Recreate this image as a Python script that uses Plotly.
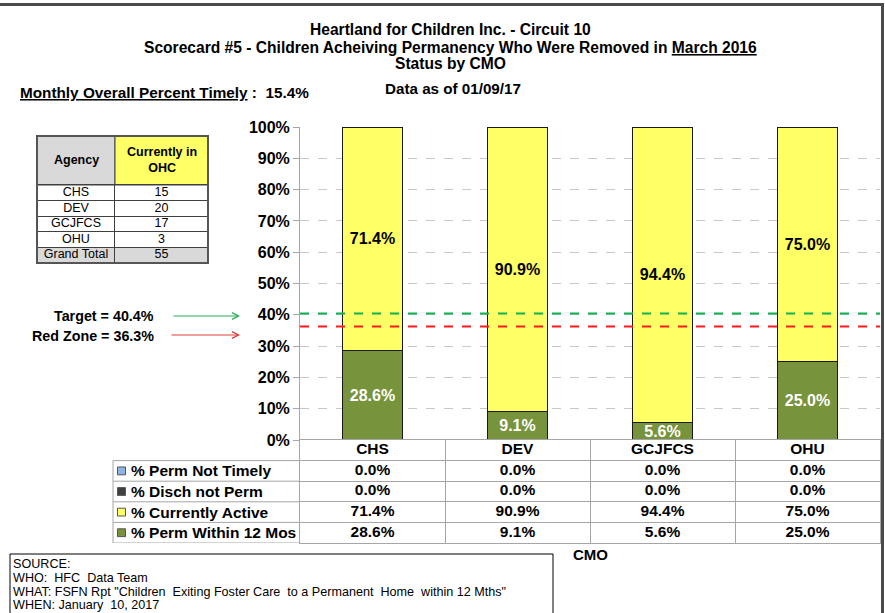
import plotly.graph_objects as go

# ---------------- data ----------------
cmos = ["CHS", "DEV", "GCJFCS", "OHU"]
perm_not_timely = [0.0, 0.0, 0.0, 0.0]
disch_not_perm = [0.0, 0.0, 0.0, 0.0]
currently_active = [71.4, 90.9, 94.4, 75.0]
perm_within_12 = [28.6, 9.1, 5.6, 25.0]

agencies = ["CHS", "DEV", "GCJFCS", "OHU", "Grand Total"]
currently_in_ohc = [15, 20, 17, 3, 55]

target = 40.4
red_zone = 36.3
overall_timely = 15.4

title_lines = [
    "Heartland for Children Inc. - Circuit 10",
    "Scorecard #5 - Children Acheiving Permanency Who Were Removed in <span style='text-decoration:underline'>March 2016</span>",
    "Status by CMO",
]
source_lines = [
    "SOURCE:",
    "WHO:  HFC  Data Team",
    "WHAT: FSFN Rpt \"Children  Exiting Foster Care  to a Permanent  Home  within 12 Mths\"",
    "WHEN: January  10, 2017",
]

# ---------------- styling / geometry ----------------
W, H = 885, 613
FONT = "Liberation Sans, Arial, sans-serif"
GREEN = "#77933C"
YELLOW = "#FFFF66"
BLUE = "#8DB4E2"
DARK = "#404040"
LGRID = "#A6A6A6"
TGRAY = "#D9D9D9"


def fx(px):
    return px / W


def fy(py):
    return 1 - py / H


fig = go.Figure()

# ---------------- stacked bars ----------------
series = [
    ("% Perm Within 12 Mos", perm_within_12, GREEN, "white"),
    ("% Currently Active", currently_active, YELLOW, "black"),
    ("% Disch not Perm", disch_not_perm, DARK, "white"),
    ("% Perm Not Timely", perm_not_timely, BLUE, "black"),
]
for name, vals, col, tcol in series:
    show = any(v > 0 for v in vals)
    fig.add_trace(go.Bar(
        x=cmos, y=vals, name=name, width=0.41,
        marker=dict(color=col, line=dict(color="#1a1a1a", width=1)),
        text=[f"<b>{v:.1f}%</b>" for v in vals] if show else None,
        textposition="inside" if show else "none",
        insidetextanchor="middle", textangle=0,
        textfont=dict(family=FONT, size=16, color=tcol),
        hoverinfo="skip", showlegend=False, xaxis="x", yaxis="y",
    ))

# ---------------- data table under the chart (x2 / y2) ----------------
table_rows = ["hdr", "% Perm Not Timely", "% Disch not Perm", "% Currently Active", "% Perm Within 12 Mos"]
row_series = {
    "% Perm Not Timely": (perm_not_timely, BLUE),
    "% Disch not Perm": (disch_not_perm, DARK),
    "% Currently Active": (currently_active, YELLOW),
    "% Perm Within 12 Mos": (perm_within_12, GREEN),
}
fig.add_trace(go.Scatter(
    x=cmos, y=["hdr"] * len(cmos), mode="text", text=[f"<b>{c}</b>" for c in cmos],
    textfont=dict(family=FONT, size=15.5, color="black"), textposition="middle center",
    xaxis="x2", yaxis="y2", hoverinfo="skip", showlegend=False,
))
for rname, (vals, _) in row_series.items():
    fig.add_trace(go.Scatter(
        x=cmos, y=[rname] * len(cmos), mode="text", text=[f"<b>{v:.1f}%</b>" for v in vals],
        textfont=dict(family=FONT, size=15.5, color="black"), textposition="middle center",
        xaxis="x2", yaxis="y2", hoverinfo="skip", showlegend=False,
    ))

# ---------------- left summary table (x3 / y3) ----------------
col_split = 0.456  # boundary between the two columns, fraction of table width
fig.add_trace(go.Scatter(
    x=[col_split / 2] * len(agencies), y=agencies, mode="text", text=agencies,
    textfont=dict(family=FONT, size=12.5, color="black"), textposition="middle center",
    xaxis="x3", yaxis="y3", hoverinfo="skip", showlegend=False,
))
fig.add_trace(go.Scatter(
    x=[(1 + col_split) / 2] * len(agencies), y=agencies, mode="text",
    text=[str(n) for n in currently_in_ohc],
    textfont=dict(family=FONT, size=12.5, color="black"), textposition="middle center",
    xaxis="x3", yaxis="y3", hoverinfo="skip", showlegend=False,
))

# ---------------- shapes ----------------
shapes = [
    # outer frame (top and right)
    dict(type="line", xref="paper", yref="paper", x0=0, x1=fx(884), y0=fy(4.5), y1=fy(4.5),
         line=dict(color="#4a4a4a", width=3)),
    dict(type="line", xref="paper", yref="paper", x0=fx(882.5), x1=fx(882.5), y0=fy(3), y1=0,
         line=dict(color="#4a4a4a", width=3)),
    # target lines
    dict(type="line", xref="x domain", yref="y", x0=0, x1=1, y0=target, y1=target,
         line=dict(color="#12B050", width=2, dash="dash")),
    dict(type="line", xref="x domain", yref="y", x0=0, x1=1, y0=red_zone, y1=red_zone,
         line=dict(color="#FF1A1A", width=2, dash="dash")),
    # source box (bottom edge runs off the page)
    dict(type="path", xref="paper", yref="paper",
         path=f"M{fx(10)},0 L{fx(10)},{fy(554)} L{fx(553)},{fy(554)} L{fx(553)},0",
         line=dict(color="black", width=1)),
    # left table: grand-total fill, header cells, outer border
    dict(type="rect", xref="x3 domain", yref="y3", x0=0, x1=1,
         y0=agencies.index("Grand Total") - 0.5, y1=agencies.index("Grand Total") + 0.5,
         fillcolor=TGRAY, line=dict(width=0), layer="below"),
    dict(type="rect", xref="paper", yref="paper", x0=fx(37), x1=fx(115), y0=fy(185), y1=fy(136),
         fillcolor=TGRAY, line=dict(color=DARK, width=1), layer="below"),
    dict(type="rect", xref="paper", yref="paper", x0=fx(115), x1=fx(208), y0=fy(185), y1=fy(136),
         fillcolor=YELLOW, line=dict(color=DARK, width=1), layer="below"),
    dict(type="rect", xref="paper", yref="paper", x0=fx(37), x1=fx(208), y0=fy(263), y1=fy(136),
         line=dict(color="#555555", width=2)),
]
# data table: label column borders
for i in range(1, len(table_rows) + 1):
    shapes.append(dict(type="line", xref="paper", yref="y2", x0=fx(113), x1=fx(300),
                       y0=i - 0.5, y1=i - 0.5, line=dict(color=LGRID, width=1)))
shapes.append(dict(type="line", xref="paper", yref="y2", x0=fx(113), x1=fx(113),
                   y0=0.5, y1=len(table_rows) - 0.5, line=dict(color=LGRID, width=1)))
# legend keys in the label column
for rname, (vals, col) in row_series.items():
    i = table_rows.index(rname)
    shapes.append(dict(type="rect", xref="paper", yref="y2", x0=fx(117.5), x1=fx(125.5),
                       y0=i - 0.19, y1=i + 0.19, fillcolor=col, line=dict(color="#555555", width=1)))

# ---------------- annotations ----------------
annotations = []
for t, y in zip(title_lines, [30, 47, 64]):
    annotations.append(dict(text=f"<b>{t}</b>", x=fx(450), y=fy(y), xref="paper", yref="paper",
                            showarrow=False, xanchor="center", yanchor="middle",
                            font=dict(family=FONT, size=15.6, color="black")))
annotations += [
    dict(text="<b><span style='text-decoration:underline'>Monthly Overall Percent Timely</span> :  "
              f"{overall_timely:.1f}%</b>",
         x=fx(18), y=fy(93), xref="paper", yref="paper", showarrow=False,
         xanchor="left", yanchor="middle", font=dict(family=FONT, size=15.3, color="black")),
    dict(text="<b>Data as of 01/09/17</b>", x=fx(383), y=fy(89), xref="paper", yref="paper",
         showarrow=False, xanchor="left", yanchor="middle",
         font=dict(family=FONT, size=15.2, color="black")),
    dict(text=f"<b>Target = {target:.1f}%</b>", x=fx(156), y=fy(316), xref="paper", yref="paper",
         showarrow=False, xanchor="right", yanchor="middle",
         font=dict(family=FONT, size=14.3, color="black")),
    dict(text=f"<b>Red Zone = {red_zone:.1f}%</b>", x=fx(156), y=fy(336), xref="paper", yref="paper",
         showarrow=False, xanchor="right", yanchor="middle",
         font=dict(family=FONT, size=14.3, color="black")),
    dict(text="", x=fx(240), y=fy(316), xref="paper", yref="paper", showarrow=True,
         ax=-68, ay=0, arrowhead=5, arrowsize=1.3, arrowwidth=1, arrowcolor="#2EAD5A"),
    dict(text="", x=fx(240), y=fy(335), xref="paper", yref="paper", showarrow=True,
         ax=-70, ay=0, arrowhead=5, arrowsize=1.3, arrowwidth=1, arrowcolor="#E03C3C"),
    dict(text="<b>CMO</b>", x=fx(590), y=fy(554), xref="paper", yref="paper", showarrow=False,
         xanchor="center", yanchor="middle", font=dict(family=FONT, size=15, color="black")),
    dict(text="<b>Agency</b>", x=fx(76), y=fy(160), xref="paper", yref="paper", showarrow=False,
         xanchor="center", yanchor="middle", font=dict(family=FONT, size=12.5, color="black")),
    dict(text="<b>Currently in<br>OHC</b>", x=fx(161.5), y=fy(160), xref="paper", yref="paper",
         showarrow=False, xanchor="center", yanchor="middle",
         font=dict(family=FONT, size=12.5, color="black")),
]
for rname in row_series:
    annotations.append(dict(text=f"<b>{rname}</b>", x=fx(129), y=rname, xref="paper", yref="y2",
                            showarrow=False, xanchor="left", yanchor="middle",
                            font=dict(family=FONT, size=15.5, color="black")))
for t, y in zip(source_lines, [564, 578, 591.5, 605]):
    annotations.append(dict(text=t, x=fx(11), y=fy(y), xref="paper", yref="paper",
                            showarrow=False, xanchor="left", yanchor="middle",
                            font=dict(family=FONT, size=12.6, color="black")))

hidden = dict(showticklabels=False, ticks="", zeroline=False, fixedrange=True, automargin=False)

fig.update_layout(
    width=W, height=H,
    margin=dict(l=0, r=0, t=0, b=0, pad=0, autoexpand=False),
    paper_bgcolor="white", plot_bgcolor="rgba(0,0,0,0)",
    barmode="stack",
    uniformtext=dict(minsize=16, mode="show"),
    showlegend=False,
    shapes=shapes,
    annotations=annotations,
    xaxis=dict(domain=[fx(300), fx(880)], range=[-0.5, 3.5], showgrid=False, showline=False,
               anchor="y", **hidden),
    yaxis=dict(domain=[fy(440), fy(127)], range=[0, 100], dtick=10, ticksuffix="%",
               tickfont=dict(family=FONT, size=16, color="black", weight="bold"),
               showgrid=True, gridcolor="#C8C8C8", griddash="dash", gridwidth=1,
               zeroline=False, showline=True, linecolor=LGRID, linewidth=1,
               ticks="outside", ticklen=6, tickcolor=LGRID, fixedrange=True, anchor="x",
               automargin=False),
    xaxis2=dict(domain=[fx(300), fx(880)], type="category", categoryarray=cmos,
                categoryorder="array", range=[-0.5, 3.5], tickson="boundaries",
                showgrid=True, gridcolor=LGRID, showline=True, mirror=True, linecolor=LGRID,
                anchor="y2", **hidden),
    yaxis2=dict(domain=[fy(543), fy(440)], type="category", categoryarray=table_rows,
                categoryorder="array", range=[len(table_rows) - 0.5, -0.5], tickson="boundaries",
                showgrid=True, gridcolor=LGRID, showline=True, mirror=True, linecolor=LGRID,
                anchor="x2", **hidden),
    xaxis3=dict(domain=[fx(37), fx(208)], range=[0, 1], tickvals=[col_split], showgrid=True,
                gridcolor=DARK, showline=True, mirror=True, linecolor=DARK, anchor="y3", **hidden),
    yaxis3=dict(domain=[fy(263), fy(185)], type="category", categoryarray=agencies,
                categoryorder="array", range=[len(agencies) - 0.5, -0.5], tickson="boundaries",
                showgrid=True, gridcolor=DARK, showline=True, mirror=True, linecolor=DARK,
                anchor="x3", **hidden),
    font=dict(family=FONT),
)

fig.write_html(
    "out.html",
    config={"displayModeBar": False},
    post_script="document.body.style.margin='0px';document.body.style.overflow='hidden';"
                "document.documentElement.style.overflow='hidden';",
)
